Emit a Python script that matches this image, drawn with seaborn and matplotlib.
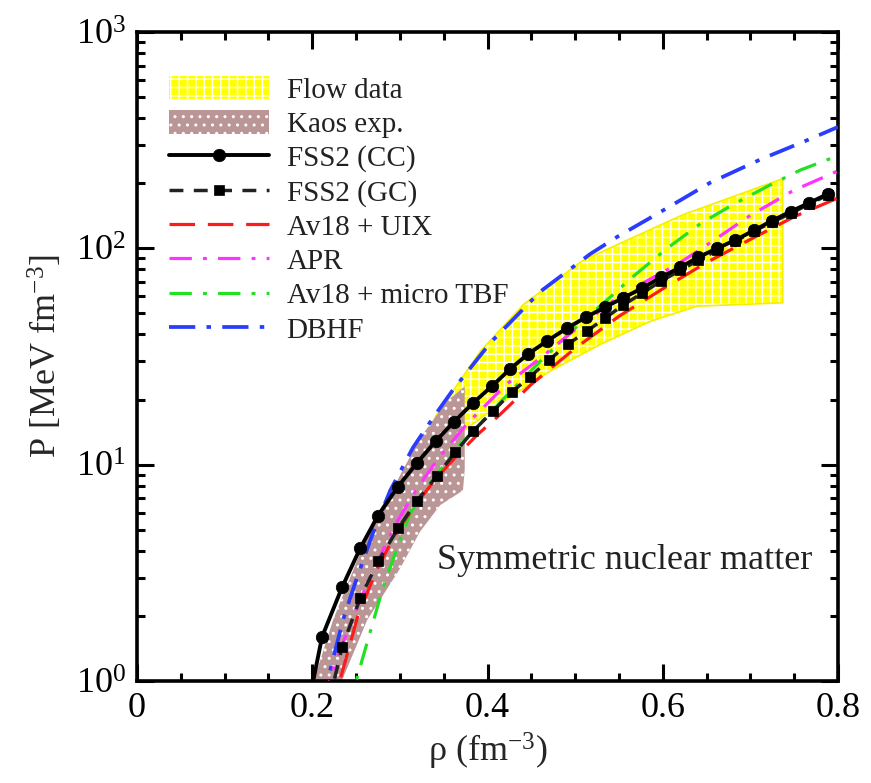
import numpy as np
import matplotlib
matplotlib.use('Agg')
import matplotlib.pyplot as plt
import seaborn as sns
from matplotlib.ticker import MultipleLocator, LogLocator, NullFormatter, FuncFormatter

# ---------------- data ----------------
# Flow data band (upper / lower boundary)
flow_up_rho = [0.34, 0.35, 0.392, 0.441, 0.509, 0.623, 0.737]
flow_up_p   = [16.5, 19.0, 33.5, 55.0, 88.0, 143.0, 210.0]
flow_lo_rho = [0.34, 0.388, 0.414, 0.471, 0.529, 0.586, 0.639, 0.737]
flow_lo_p   = [11.5, 15.9, 19.1, 27.0, 36.0, 46.0, 54.0, 56.0]

# Kaos band (upper / lower boundary)
kaos_up_rho = [0.198, 0.2237, 0.2466, 0.2694, 0.2968, 0.323, 0.354, 0.374]
kaos_up_p   = [0.9, 1.91, 3.25, 5.5, 8.4, 13.3, 19.7, 23.0]
kaos_lo_rho = [0.229, 0.2626, 0.300, 0.323, 0.346, 0.372, 0.374]
kaos_lo_p   = [0.9, 1.91, 3.3, 4.9, 6.5, 7.6, 9.5]

# FSS2 (CC)
cc_rho = [0.19, 0.2112, 0.234, 0.2546, 0.2751, 0.2979, 0.3196, 0.3413, 0.3619, 0.3836,
          0.4053, 0.4258, 0.4464, 0.468, 0.4909, 0.5126, 0.5342, 0.5548, 0.5765, 0.598,
          0.6199, 0.6405, 0.662, 0.6826, 0.704, 0.7246, 0.746, 0.767, 0.789]
cc_p   = [0.6, 1.60, 2.71, 4.10, 5.82, 7.92, 10.2, 12.9, 15.8, 19.3,
          23.1, 27.7, 32.5, 37.3, 42.8, 48.1, 53.5, 59.0, 65.4, 73.5,
          81.7, 90.9, 100.0, 109.0, 121.0, 134.0, 148.0, 162.0, 179.0]

# FSS2 (GC)
gc_rho = [0.2126, 0.234, 0.2546, 0.2751, 0.2979, 0.3196, 0.3425, 0.363, 0.3836, 0.4064,
          0.428, 0.4486, 0.4703, 0.492, 0.5137, 0.5342, 0.5548, 0.5765, 0.598, 0.62,
          0.6405, 0.662, 0.6826, 0.704, 0.7246, 0.746, 0.767, 0.789]
gc_p   = [0.62, 1.43, 2.41, 3.57, 5.07, 6.82, 8.9, 11.4, 14.3, 17.7,
          21.7, 25.5, 30.5, 36.1, 41.5, 47.6, 54.6, 62.1, 70.5, 79.2,
          88.0, 98.0, 107.8, 120.0, 132.0, 145.0, 160.0, 177.0]

# Av18 + UIX
uix_rho = [0.222, 0.232, 0.252, 0.274, 0.297, 0.32, 0.342, 0.365, 0.388, 0.414,
           0.45, 0.50, 0.55, 0.60, 0.65, 0.70, 0.75, 0.80]
uix_p   = [0.7, 1.02, 2.0, 3.3, 4.95, 6.7, 8.7, 11.0, 13.7, 17.0,
           23.5, 34.5, 48.5, 65.0, 86.0, 110.0, 140.0, 171.0]

# APR
apr_rho = [0.212, 0.226, 0.249, 0.269, 0.295, 0.32, 0.346, 0.377, 0.422, 0.46,
           0.498, 0.543, 0.58, 0.62, 0.654, 0.70, 0.749, 0.80]
apr_p   = [0.8, 1.2, 2.1, 3.2, 5.3, 7.8, 11.0, 15.5, 23.6, 31.0,
           41.5, 57.0, 70.0, 86.0, 106.0, 142.0, 185.0, 228.0]

# Av18 + micro TBF
tbf_rho = [0.24, 0.2546, 0.2808, 0.300, 0.3116, 0.3345, 0.3653, 0.3836, 0.42, 0.46,
           0.5057, 0.537, 0.566, 0.605, 0.643, 0.681, 0.719, 0.757, 0.80]
tbf_p   = [0.72, 1.16, 2.71, 4.47, 5.95, 8.17, 11.96, 14.3, 20.5, 30.0,
           45.0, 58.0, 74.0, 100.0, 130.0, 160.0, 193.0, 230.0, 268.0]

# DBHF
dbhf_rho = [0.21, 0.22, 0.235, 0.251, 0.269, 0.289, 0.315, 0.338, 0.36, 0.403,
            0.46, 0.517, 0.548, 0.597, 0.654, 0.711, 0.768, 0.80]
dbhf_p   = [0.76, 1.1, 1.91, 3.0, 4.8, 7.6, 12.0, 16.5, 22.0, 36.5,
            63.0, 94.0, 113.0, 147.0, 201.0, 257.0, 320.0, 364.0]

labels = ["Flow data", "Kaos exp.", "FSS2 (CC)", "FSS2 (GC)", "Av18 + UIX",
          "APR", "Av18 + micro TBF", "DBHF"]

# ---------------- style ----------------
sns.set_theme(style='ticks')
plt.rcParams['font.family'] = ['Liberation Serif', 'DejaVu Serif']
plt.rcParams['mathtext.fontset'] = 'custom'
plt.rcParams['mathtext.rm'] = 'Liberation Serif'
plt.rcParams['mathtext.it'] = 'Liberation Serif:italic'
plt.rcParams['mathtext.bf'] = 'Liberation Serif:bold'
plt.rcParams['hatch.linewidth'] = 1.0

fig = plt.figure(figsize=(8.71, 7.83), dpi=100)
ax = fig.add_axes([137/871, 1-681/783, (838-137)/871, (681-32)/783])

# ---------------- bands ----------------
flow_x = np.r_[flow_up_rho, flow_lo_rho[::-1]]
flow_y = np.r_[flow_up_p, flow_lo_p[::-1]]
flow_patch = ax.fill(flow_x, flow_y, facecolor='#ffff00', edgecolor='white',
                     hatch='++', linewidth=0, zorder=1)[0]
ax.fill(flow_x, flow_y, facecolor='none', edgecolor='#f5f000', linewidth=1.2, zorder=1)

kaos_x = np.r_[kaos_up_rho, kaos_lo_rho[::-1]]
kaos_y = np.r_[kaos_up_p, kaos_lo_p[::-1]]
kaos_patch = ax.fill(kaos_x, kaos_y, facecolor='#bb9696', edgecolor='white',
                     hatch='..', linewidth=0, zorder=2)[0]

# ---------------- curves ----------------
def draw(x, y, **kw):
    sns.lineplot(x=x, y=y, ax=ax, **kw)
    return ax.lines[-1]

l_dbhf = draw(dbhf_rho, dbhf_p, color='#2a3cff', linewidth=2.7,
              linestyle=(0, (7, 3, 1.2, 3)), zorder=3)
l_tbf = draw(tbf_rho, tbf_p, color='#22e022', linewidth=2.3,
             linestyle=(0, (7, 3.5, 1.2, 3.5)), zorder=3)
l_apr = draw(apr_rho, apr_p, color='#ff33ff', linewidth=2.3,
             linestyle=(0, (7, 3.5, 1.2, 3.5)), zorder=3)
l_uix = draw(uix_rho, uix_p, color='#ff1a1a', linewidth=2.3,
             linestyle=(0, (8, 4)), zorder=3)
l_gc = draw(gc_rho, gc_p, color='#222222', linewidth=2.5, linestyle=(0, (4, 3)),
            marker='s', markersize=7.5, markerfacecolor='black',
            markeredgecolor='black', markeredgewidth=0.5, zorder=4)
l_cc = draw(cc_rho, cc_p, color='black', linewidth=2.8, linestyle='-',
            marker='o', markersize=9, markerfacecolor='black',
            markeredgecolor='black', markeredgewidth=0.5, zorder=5)

# ---------------- axes ----------------
ax.set_yscale('log')
ax.set_xlim(0, 0.8)
ax.set_ylim(1, 1000)
ax.xaxis.set_major_locator(MultipleLocator(0.2))
ax.xaxis.set_minor_locator(MultipleLocator(0.05))
ax.xaxis.set_major_formatter(FuncFormatter(lambda v, p: '%g' % v))
ax.yaxis.set_major_locator(LogLocator(base=10, numticks=10))
ax.yaxis.set_minor_locator(LogLocator(base=10, subs=np.arange(2, 10), numticks=20))
ax.yaxis.set_minor_formatter(NullFormatter())
ax.tick_params(which='both', direction='in', top=True, right=True,
               width=2.2, colors='black', labelsize=26, pad=8)
ax.tick_params(which='major', length=12)
ax.tick_params(which='minor', length=6)
for s in ax.spines.values():
    s.set_linewidth(2.6)
    s.set_color('black')

ax.set_xlabel(r'ρ (fm$^{-3}$)', fontsize=26, labelpad=4)
ax.set_ylabel(r'P [MeV fm$^{-3}$]', fontsize=26, labelpad=8)

ax.text(0.342, 3.6, 'Symmetric nuclear matter', fontsize=26, va='center',
        ha='left', color='#222222', zorder=6)

handles = [flow_patch, kaos_patch, l_cc, l_gc, l_uix, l_apr, l_tbf, l_dbhf]
leg = ax.legend(handles, labels, loc='upper left', bbox_to_anchor=(0.045, 0.932),
                frameon=False, fontsize=21, handlelength=3.45, handleheight=0.85,
                labelspacing=0.22, handletextpad=0.6, borderaxespad=0, borderpad=0)
for t in leg.get_texts():
    t.set_color('#222222')

fig.savefig('out.png', dpi=100)
